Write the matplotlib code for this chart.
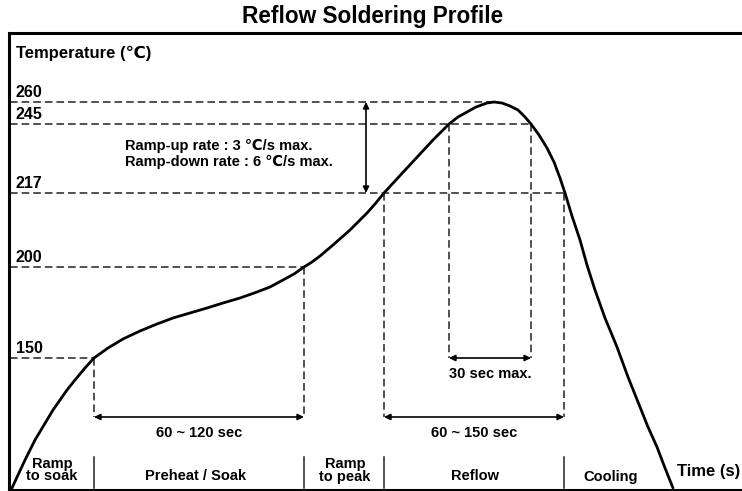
import matplotlib
matplotlib.use("Agg")
import matplotlib.pyplot as plt

plt.rcParams['font.family'] = ['Liberation Sans', 'DejaVu Sans']
plt.rcParams['font.weight'] = 'bold'

# profile curve (time / height in diagram units)
curve_t = [2, 8, 15, 20, 25, 31, 37, 43, 50, 57, 65, 75, 84, 98, 113, 130,
           147, 163, 180, 197, 213, 230, 247, 260, 273, 284, 294, 302, 310,
           323, 340, 357, 365, 374, 385, 397, 410, 423, 431, 439, 448, 457,
           466, 477, 484, 492, 500, 508, 515, 521, 529, 537, 544, 550, 555,
           562, 570, 577, 585, 595, 607, 618, 630, 638, 647, 655, 663]
curve_h = [0, 13, 28, 38, 48, 58, 68, 78, 88, 98, 108, 120, 130, 140, 149, 157,
           164, 170, 175, 180, 185, 190, 196, 201, 208, 214, 221, 226, 232,
           243, 258, 275, 284, 295, 307, 320, 334, 348, 356, 364, 371, 376,
           381, 385, 386, 385, 382, 378, 371, 364, 353, 340, 326, 310, 295,
           272, 248, 223, 198, 170, 141, 111, 81, 61, 41, 20, 0]

# temperature levels and where they sit on the diagram
temp_labels = ['150', '200', '217', '245', '260']
temp_h = [130, 221, 295, 364, 386]
temp_end = [84, 294, 554, 521, 484]

# phase boundaries along the time axis
phase_t = [84, 294, 374, 554]
phase_names = ['Ramp\nto soak', 'Preheat / Soak', 'Ramp\nto peak', 'Reflow', 'Cooling']
phase_mid = [42, 186, 335, 465, 601]

# duration windows: (start, end, height, label)
windows = [(84, 294, 71, '60 ~ 120 sec'),
           (374, 554, 71, '60 ~ 150 sec'),
           (439, 521, 130, '30 sec max.')]

fig = plt.figure(figsize=(7.42, 4.91), dpi=100)
ax = fig.add_axes([9 / 742, 1.5 / 491, 1 - 9 / 742, (489.5 - 33.3) / 491])
ax.set_xlim(-1, 732)
ax.set_ylim(-1.5, 454.7)
ax.set_xticks([])
ax.set_yticks([])
ax.spines['right'].set_visible(False)
for s in ['left', 'top', 'bottom']:
    ax.spines[s].set_linewidth(2.2)

dash = dict(color='#222222', lw=1.1, linestyle=(0, (5, 2.6)))

# horizontal dashed guides + labels
for lab, h, xe in zip(temp_labels, temp_h, temp_end):
    ax.plot([0, xe], [h, h], **dash)
    ax.text(6, h + 5, lab, fontsize=11.5, ha='left', va='baseline')

# vertical dashed guides
ax.plot([84, 84], [130, 71], **dash)
ax.plot([294, 294], [221, 71], **dash)
ax.plot([374, 374], [295, 71], **dash)
ax.plot([554, 554], [295, 71], **dash)
ax.plot([439, 439], [364, 130], **dash)
ax.plot([521, 521], [364, 130], **dash)

# profile curve
ax.plot(curve_t, curve_h, color='black', lw=2, solid_capstyle='round',
        solid_joinstyle='round', zorder=5)

# duration arrows
arrow = dict(arrowstyle='<|-|>', color='black', lw=1.2, mutation_scale=9,
             shrinkA=0, shrinkB=0)
for t0, t1, h, lab in windows:
    ax.annotate('', xy=(t0, h), xytext=(t1, h), arrowprops=arrow)
    ax.text((t0 + t1) / 2, h - 9, lab, fontsize=10.5, ha='center', va='top')

# ramp rate arrow and note
ax.annotate('', xy=(356, 386), xytext=(356, 295), arrowprops=arrow)
ax.text(115, 338.5, 'Ramp-up rate : 3 \u2103/s max.', fontsize=10.5, ha='left', va='baseline')
ax.text(115, 322, 'Ramp-down rate : 6 \u2103/s max.', fontsize=10.5, ha='left', va='baseline')

# phase separators and names
for t in phase_t:
    ax.plot([t, t], [0, 31], color='#222222', lw=1.1)
for name, t in zip(phase_names, phase_mid):
    ax.text(t, 7.5, name, fontsize=10.5, ha='center', va='baseline', linespacing=0.88)

ax.text(6, 430, 'Temperature (\u2103)', fontsize=12, ha='left', va='baseline')
ax.text(699, 12, 'Time (s)', fontsize=12, ha='center', va='baseline')

fig.text(373 / 742, 1 - 23.5 / 491, 'Reflow Soldering Profile', fontsize=16.3,
         ha='center', va='baseline')

fig.savefig('out.png', dpi=100)
